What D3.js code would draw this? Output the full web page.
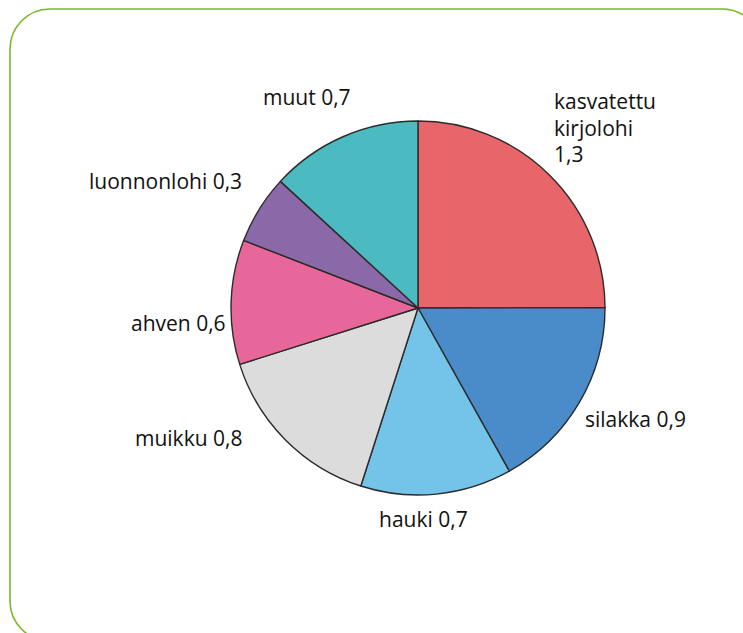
<!DOCTYPE html>
<html><head><meta charset="utf-8">
<script src="https://cdn.jsdelivr.net/npm/d3@7"></script>
<style>body{margin:0;background:#fff}svg{display:block}</style>
</head><body>
<svg id="c" width="743" height="633"></svg>
<script>
const categories = ["kasvatettu kirjolohi","silakka","hauki","muikku","ahven","luonnonlohi","muut"];
const values = [1.3, 0.88, 0.68, 0.79, 0.56, 0.31, 0.685];
const colors = ["#E8666A","#4A8BC9","#74C4EA","#DCDCDC","#E8679A","#8B69A8","#4CBAC1"];
const labelLines = [["kasvatettu","kirjolohi","1,3"],["silakka 0,9"],["hauki 0,7"],["muikku 0,8"],["ahven 0,6"],["luonnonlohi 0,3"],["muut 0,7"]];
const labelPos = [[554,109],[585,427],[379,527],[135,446],[131,331],[89,189],[263,105]];

const svg = d3.select("#c");
svg.append("rect").attr("x",10).attr("y",9).attr("width",752).attr("height",632)
  .attr("rx",40).attr("fill","none").attr("stroke","#7BB82A").attr("stroke-width",1.6);

const cx=418, cy=308, R=187;
const pie = d3.pie().sort(null).value(d=>d)(values);
const arc = d3.arc().innerRadius(0).outerRadius(R);
const g = svg.append("g").attr("transform",`translate(${cx},${cy})`);
g.selectAll("path").data(pie).join("path")
  .attr("d",arc).attr("fill",(d,i)=>colors[i])
  .attr("stroke","#2b2b2b").attr("stroke-width",1.4).attr("stroke-linejoin","round");

const t = svg.append("g").style("font-family","'Open Sans', Lato, sans-serif").style("font-size","21px").attr("fill","#111");
labelLines.forEach((lines,i)=>{
  const txt = t.append("text").attr("x",labelPos[i][0]).attr("y",labelPos[i][1]);
  lines.forEach((l,j)=>txt.append("tspan").attr("x",labelPos[i][0]).attr("dy",j?26.5:0).text(l));
});
</script>
</body></html>
